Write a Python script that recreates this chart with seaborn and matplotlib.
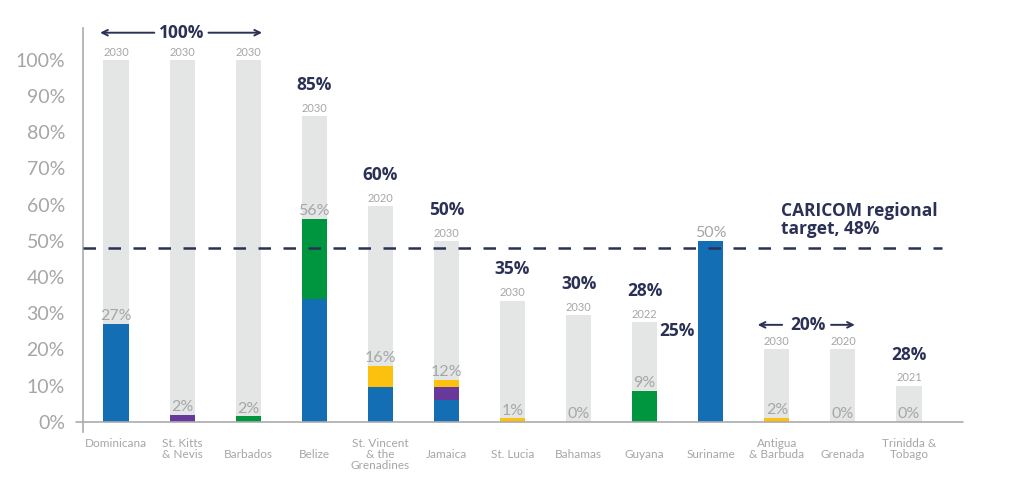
import pandas as pd
import matplotlib
matplotlib.use("Agg")
from matplotlib import pyplot as plt
import seaborn as sns

# data
countries = [
    "Dominicana", "St. Kitts\n& Nevis", "\nBarbados", "\nBelize",
    "St. Vincent\n& the\nGrenadines", "\nJamaica", "\nSt. Lucia", "\nBahamas",
    "\nGuyana", "\nSuriname", "Antigua\n& Barbuda", "\nGrenada", "Trinidda &\nTobago",
]
target = [100, 100, 100, 84.5, 59.5, 50, 33.5, 29.5, 27.5, 25, 20, 20, 10]
target_years = ["2030", "2030", "2030", "2030", "2020", "2030", "2030", "2030",
                "2022", "", "2030", "2020", "2021"]
target_labels = ["", "", "", "85%", "60%", "50%", "35%", "30%", "28%", "", "", "", "28%"]
blue = [27, 0, 0, 34, 9.5, 6, 0, 0, 0, 50, 0, 0, 0]
purple = [0, 2, 0, 0, 0, 3.7, 0, 0, 0, 0, 0, 0, 0]
green = [0, 0, 1.5, 22, 0, 0, 0, 0, 8.5, 0, 0, 0, 0]
yellow = [0, 0, 0, 0, 6, 1.9, 1, 0, 0, 0, 1.2, 0, 0]
current_labels = ["27%", "2%", "2%", "56%", "16%", "12%", "1%", "0%", "9%",
                  "50%", "2%", "0%", "0%"]
regional_target = 48

df = pd.DataFrame({"country": countries, "target": target,
                   "blue": blue, "purple": purple, "green": green, "yellow": yellow})
df["c_blue"] = df["blue"]
df["c_purple"] = df["c_blue"] + df["purple"]
df["c_green"] = df["c_purple"] + df["green"]
df["c_yellow"] = df["c_green"] + df["yellow"]

NAVY = "#2b3155"
GREY_TXT = "#a6a6a6"
BAR_GREY = "#e3e6e5"
COLORS = {"blue": "#146eb4", "purple": "#68399a", "green": "#00963f", "yellow": "#fcc00e"}
BOLD = dict(fontsize=12.5, fontweight="bold", color=NAVY, family=["Open Sans", "DejaVu Sans"])

sns.set_style("white")
plt.rcParams["font.family"] = ["Lato", "DejaVu Sans"]

fig = plt.figure(figsize=(10.24, 5), dpi=100)
ax = fig.add_axes([0.081, 0.136, 0.859, 0.808])

sns.barplot(data=df, x="country", y="target", color=BAR_GREY, width=0.38,
            saturation=1, errorbar=None, ax=ax)
# stacked shares drawn as overlaid cumulative bars
for key in ["yellow", "green", "purple", "blue"]:
    sns.barplot(data=df, x="country", y="c_" + key, color=COLORS[key], width=0.38,
                saturation=1, errorbar=None, ax=ax)

for p in ax.patches:
    p.set_linewidth(0)

ax.set_xlim(-0.5, 12.81)
ax.set_ylim(-2.8, 108.8)
ax.set_yticks(range(0, 101, 10))
ax.set_yticklabels([f"{v}%" for v in range(0, 101, 10)], fontsize=14, color=GREY_TXT)
ax.tick_params(axis="y", length=0, pad=13)
ax.tick_params(axis="x", length=0, pad=4, labelsize=8.5, labelcolor=GREY_TXT)
for lab in ax.get_xticklabels():
    lab.set_linespacing(1.0)
ax.set_xlabel("")
ax.set_ylabel("")

for s in ["top", "right", "bottom"]:
    ax.spines[s].set_visible(False)
ax.spines["left"].set_color("#ababab")
ax.spines["left"].set_linewidth(1.2)
ax.axhline(0, xmin=-0.008, xmax=1, color="#ababab", lw=1.2, clip_on=False, zorder=5)

# regional target line
ax.hlines(regional_target, -0.5, 12.5, colors=NAVY, linestyles=(0, (5, 5)), lw=1.8, zorder=6)
ax.text(10.06, 55.8, "CARICOM regional\ntarget, 48%", va="center", ha="left",
        linespacing=1.05, **BOLD)

for i in range(len(countries)):
    if target_years[i]:
        ax.text(i, target[i] + 0.6, target_years[i], ha="center", va="bottom",
                fontsize=8, color=GREY_TXT)
    if target_labels[i]:
        ax.text(i, target[i] + 8.6, target_labels[i], ha="center", va="center", **BOLD)
    ax.text(i, df["c_yellow"][i] + 0.2, current_labels[i], ha="center", va="bottom",
            fontsize=11.5, color=GREY_TXT)

# grouped target labels with arrows
ax.text(8.49, 25.2, "25%", ha="center", va="center", **BOLD)
groups = [("100%", 0.99, 107.5, (-0.24, 0.58), (1.4, 2.21)),
          ("20%", 10.47, 26.8, (9.71, 10.08), (10.82, 11.18))]
for txt, x, y, left, right in groups:
    ax.text(x, y, txt, ha="center", va="center", **BOLD)
    arrow = dict(arrowstyle="->", color=NAVY, lw=1.4, shrinkA=0, shrinkB=0)
    ax.annotate("", xy=(left[0], y), xytext=(left[1], y), arrowprops=arrow,
                annotation_clip=False)
    ax.annotate("", xy=(right[1], y), xytext=(right[0], y), arrowprops=arrow,
                annotation_clip=False)

fig.savefig("out.png", dpi=100)
